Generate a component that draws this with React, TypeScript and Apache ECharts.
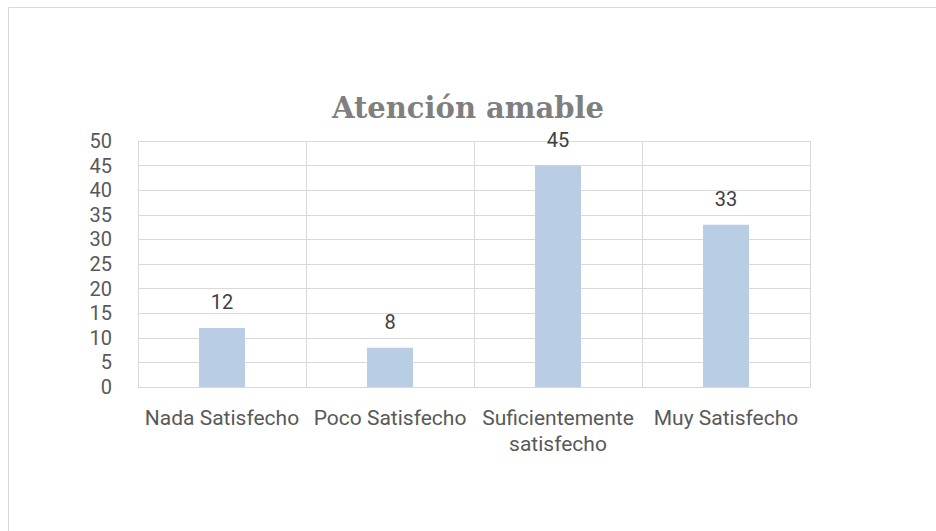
import React, { useEffect, useRef } from "react";
import * as echarts from "echarts";

const TITLE = "Atención amable";
const categories = ["Nada Satisfecho", "Poco Satisfecho", "Suficientemente\nsatisfecho", "Muy Satisfecho"];
const values = [12, 8, 45, 33];
const yMin = 0;
const yMax = 50;
const yStep = 5;

const LABEL_FONT = "Roboto, 'Liberation Sans', sans-serif";

export default function App() {
  const ref = useRef<HTMLDivElement>(null);
  useEffect(() => {
    if (!ref.current) return;
    const chart = echarts.init(ref.current, undefined, { renderer: "svg" });
    chart.setOption({
      animation: false,
      backgroundColor: "#ffffff",
      title: {
        text: TITLE,
        left: "center",
        top: 88,
        textStyle: {
          fontFamily: "'DejaVu Serif', serif",
          fontWeight: "bold",
          fontSize: 29,
          color: "#7f7f7f",
        },
      },
      graphic: [
        {
          type: "rect",
          shape: { x: 8.5, y: 7.5, width: 1000, height: 1000 },
          style: { fill: "none", stroke: "#d9d9d9", lineWidth: 1 },
          silent: true,
        },
      ],
      grid: { left: 138, right: 126, top: 141, bottom: 144, containLabel: false },
      xAxis: {
        type: "category",
        data: categories,
        axisLine: { show: true, lineStyle: { color: "#d9d9d9", width: 1 } },
        axisTick: { show: false },
        splitLine: { show: true, lineStyle: { color: "#d9d9d9", width: 1 } },
        axisLabel: {
          color: "#595959",
          fontSize: 21,
          fontFamily: LABEL_FONT,
          margin: 18,
          lineHeight: 26,
          interval: 0,
        },
      },
      yAxis: {
        type: "value",
        min: yMin,
        max: yMax,
        interval: yStep,
        axisLine: { show: true, lineStyle: { color: "#d9d9d9", width: 1 } },
        axisTick: { show: false },
        splitLine: { show: true, lineStyle: { color: "#d9d9d9", width: 1 } },
        axisLabel: {
          color: "#595959",
          fontSize: 20,
          fontFamily: LABEL_FONT,
          margin: 26,
          align: "right",
          lineHeight: 20,
        },
      },
      series: [
        {
          type: "bar",
          data: values,
          barWidth: 46,
          itemStyle: { color: "#b9cde5" },
          label: {
            show: true,
            position: "top",
            distance: 16,
            color: "#404040",
            fontSize: 20,
            fontFamily: LABEL_FONT,
          },
        },
      ],
    });
    return () => chart.dispose();
  }, []);
  return (
    <div
      ref={ref}
      style={{ position: "absolute", left: 0, top: 0, width: 936, height: 531 }}
    />
  );
}
